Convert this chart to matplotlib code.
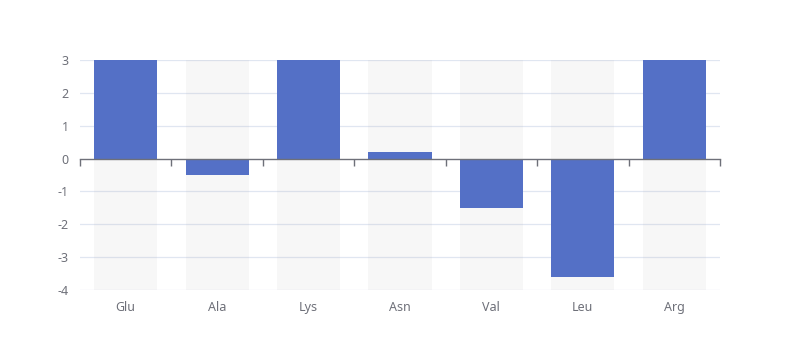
import numpy as np
import matplotlib
matplotlib.use('Agg')
import matplotlib.pyplot as plt

categories = ['Glu', 'Ala', 'Lys', 'Asn', 'Val', 'Leu', 'Arg']
values = [4.0, -0.5, 4.0, 0.2, -1.5, -3.6, 4.0]  # Glu, Lys, Arg go past the top of the axis
y_ticks = [-4, -3, -2, -1, 0, 1, 2, 3]

y_min, y_max = -4, 3
bar_color = '#5470c6'
text_color = '#6e7079'
grid_color = '#e0e6f1'

plt.rcParams['font.family'] = ['Noto Sans', 'DejaVu Sans']
plt.rcParams['axes.unicode_minus'] = False

fig = plt.figure(figsize=(8, 3.6), dpi=100)
ax = fig.add_axes([0.1, 0.1944, 0.8, 0.6389])

x = np.arange(len(categories))
width = 0.69

# shadow bars behind each category
ax.bar(x, y_max - y_min, bottom=y_min, width=width, color=(180/255, 180/255, 180/255), alpha=0.1, zorder=1)
ax.bar(x, values, width=width, color=bar_color, zorder=3)

ax.set_xlim(-0.5, len(categories) - 0.5)
ax.set_ylim(y_min, y_max)

# grid lines
for t in y_ticks:
    if t != 0:
        ax.axhline(t, color=grid_color, lw=0.9, zorder=0)

for s in ['left', 'right', 'bottom']:
    ax.spines[s].set_visible(False)
ax.spines['top'].set_position(('data', 0))
ax.spines['top'].set_color(text_color)
ax.spines['top'].set_linewidth(1)
ax.spines['top'].set_zorder(4)

ax.set_xticks(x)
ax.set_xticklabels(categories)
ax.set_xticks(np.arange(len(categories) + 1) - 0.5, minor=True)
ax.tick_params(axis='x', which='major', length=0, pad=8, labelsize=9, labelcolor=text_color, top=False)
ax.tick_params(axis='x', which='minor', bottom=False, top=True, direction='in', length=5, color=text_color, width=1)

ax.set_yticks(y_ticks)
ax.tick_params(axis='y', length=0, pad=8, labelsize=9, labelcolor=text_color)

fig.savefig('out.png', dpi=100)
